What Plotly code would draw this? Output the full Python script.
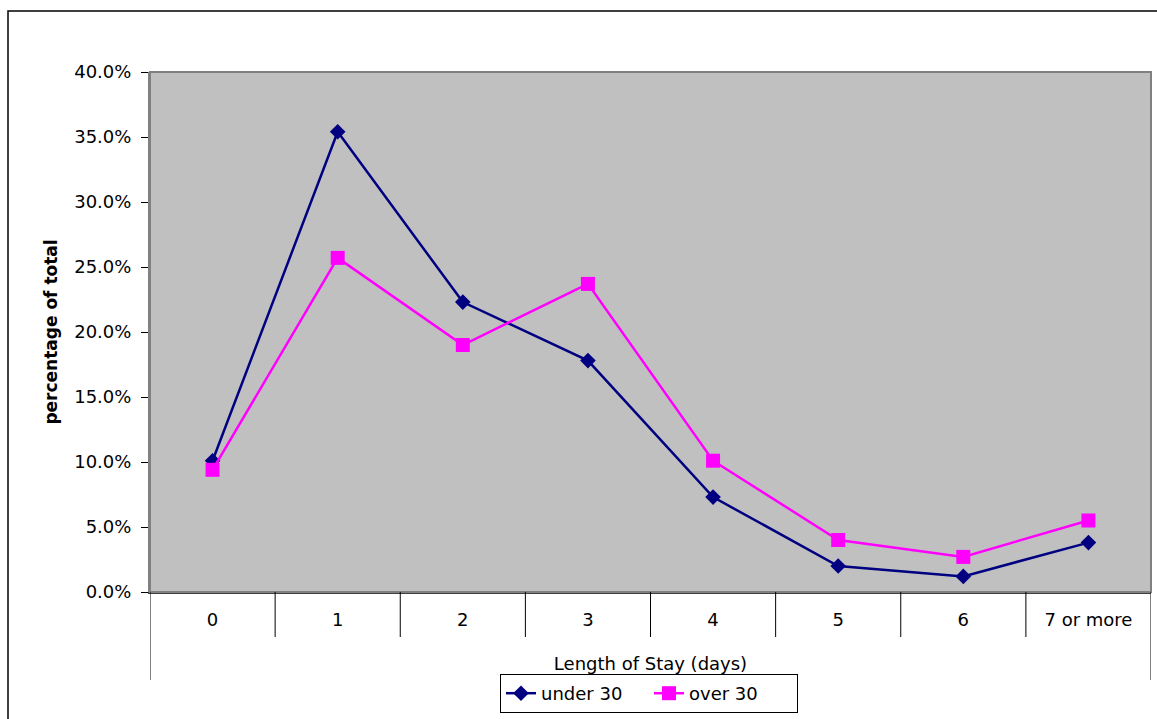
import plotly.graph_objects as go

categories = ["0", "1", "2", "3", "4", "5", "6", "7 or more"]
under_30 = [10.1, 35.4, 22.3, 17.8, 7.3, 2.0, 1.2, 3.8]
over_30 = [9.4, 25.7, 19.0, 23.7, 10.1, 4.0, 2.7, 5.5]
y_ticks = [0, 5, 10, 15, 20, 25, 30, 35, 40]
y_tick_labels = [f"{v:.1f}%" for v in y_ticks]

FONT = "DejaVu Sans"
W, H = 1157, 719
L, R, T, B = 150, 6, 72, 127
ph = H - T - B  # plot height in px
pw = W - L - R

fig = go.Figure()
fig.add_trace(go.Scatter(
    x=categories, y=under_30, name="under 30", mode="lines+markers",
    line=dict(color="#000080", width=2.5),
    marker=dict(symbol="diamond", size=12, color="#000080"),
))
fig.add_trace(go.Scatter(
    x=categories, y=over_30, name="over 30", mode="lines+markers",
    line=dict(color="#FF00FF", width=2.5),
    marker=dict(symbol="square", size=14, color="#FF00FF"),
))

shapes = []
# plot area border
shapes.append(dict(type="rect", xref="paper", yref="paper", x0=0, x1=1, y0=0, y1=1,
                   line=dict(color="#808080", width=2), layer="above"))
# category dividers below x axis
n = len(categories)
for k in range(n + 1):
    ext = 88 if k in (0, n) else 45
    shapes.append(dict(type="line", xref="x", yref="paper", x0=k - 0.5, x1=k - 0.5,
                       y0=0, y1=-ext / ph, line=dict(color="#000000", width=1)))
# outer chart border (left and top visible)
shapes.append(dict(type="rect", xref="paper", yref="paper",
                   x0=(8 - L) / pw, x1=1.2, y0=-0.5, y1=(592 - 11) / ph,
                   line=dict(color="#000000", width=1.5)))

fig.update_layout(
    width=W, height=H,
    margin=dict(l=L, r=R, t=T, b=B, pad=0),
    paper_bgcolor="white",
    plot_bgcolor="#C0C0C0",
    font=dict(family=FONT, size=18, color="black"),
    shapes=shapes,
    showlegend=True,
    legend=dict(
        orientation="h", x=(649 - L) / pw, xanchor="center",
        y=(592 - 674) / ph, yanchor="top",
        bordercolor="black", borderwidth=1, bgcolor="white",
        font=dict(family=FONT, size=18),
        itemwidth=30, entrywidthmode="pixels", entrywidth=103,
    ),
    xaxis=dict(
        type="category", range=[-0.5, n - 0.5],
        showgrid=False, zeroline=False,
        showline=True, linecolor="#404040", linewidth=2,
        ticks="", ticklabelstandoff=10,
        tickfont=dict(family=FONT, size=18),
        title=dict(text="Length of Stay (days)", standoff=29,
                   font=dict(family=FONT, size=18)),
    ),
    yaxis=dict(
        range=[0, 40], tickmode="array", tickvals=y_ticks, ticktext=y_tick_labels,
        showgrid=False, zeroline=False,
        showline=True, linecolor="#808080", linewidth=2,
        ticks="outside", ticklen=7, tickcolor="black", tickwidth=1,
        ticklabelstandoff=6,
        tickfont=dict(family=FONT, size=18),
        title=dict(text="<b>percentage of total</b>", standoff=12,
                   font=dict(family=FONT, size=17)),
    ),
)

fig.write_html("out.html")
